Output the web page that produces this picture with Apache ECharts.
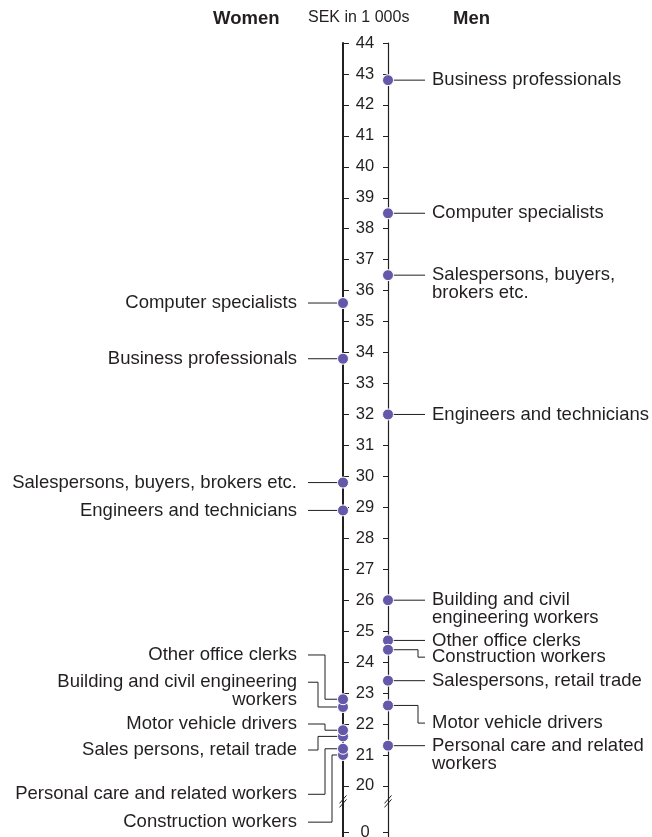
<!DOCTYPE html>
<html>
<head>
<meta charset="utf-8">
<script src="https://cdn.jsdelivr.net/npm/echarts@6/dist/echarts.min.js"></script>
<style>
    html, body { margin: 0; padding: 0; background: #fff; }
    #chart { width: 652px; height: 837px; }
</style>
</head>
<body>
<div id="chart"></div>
<script>
    // monthly pay, SEK in 1 000s
    var womenJobs = ['Computer specialists', 'Business professionals', 'Salespersons, buyers, brokers etc.',
        'Engineers and technicians', 'Other office clerks', 'Building and civil engineering\nworkers',
        'Motor vehicle drivers', 'Sales persons, retail trade', 'Personal care and related workers',
        'Construction workers'];
    var womenPay = [35.6, 33.8, 29.8, 28.9, 22.8, 22.55, 21.8, 21.6, 21.2, 21.0];

    var menJobs = ['Business professionals', 'Computer specialists', 'Salespersons, buyers,\nbrokers etc.',
        'Engineers and technicians', 'Building and civil\nengineering workers', 'Other office clerks',
        'Construction workers', 'Salespersons, retail trade', 'Motor vehicle drivers',
        'Personal care and related\nworkers'];
    var menPay = [42.8, 38.5, 36.5, 32.0, 26.0, 24.7, 24.4, 23.4, 22.6, 21.3];

    var tickLabels = ['0', '20', '21', '22', '23', '24', '25', '26', '27', '28', '29', '30', '31', '32',
        '33', '34', '35', '36', '37', '38', '39', '40', '41', '42', '43', '44'];

    // layout: the axis is broken below 20, "0" sits at ZERO_AT
    var ZERO_AT = 18.5;
    var BREAK_AT = 19.5;
    // bent leaders: [label level in axis units, px from the line where it turns]
    var womenBends = [null, null, null, null, [24.23, 18], [23.35, 25], [22.0, 18], [21.16, 25], [19.73, 18], [18.83, 11]];
    var menBends = [null, null, null, null, null, null, [24.16, 30], null, [22.03, 30], null];

    var INK = '#231f20';
    var DOT = '#6459a8';
    var FONT = 'Liberation Sans, Arial, sans-serif';

    var tickPos = tickLabels.map(function (t) { return t === '0' ? ZERO_AT : Number(t); });

    function labelSeries(xv, dir, jobs, pay, bends) {
        return {
            type: 'custom',
            clip: false,
            silent: true,
            z: 1,
            data: pay.map(function (v, i) { return [xv, v, i]; }),
            renderItem: function (params, api) {
                var i = api.value(2);
                var dot = api.coord([xv, api.value(1)]);
                var b = bends[i];
                var ly = b ? api.coord([xv, b[0]])[1] : dot[1];
                var end = dot[0] + (dir < 0 ? -35 : 37);
                var pts = [[end, ly]];
                if (b) {
                    var turn = dot[0] + dir * b[1];
                    pts.push([turn, ly], [turn, dot[1]]);
                }
                pts.push([dot[0], dot[1]]);
                return {
                    type: 'group',
                    children: [{
                        type: 'polyline',
                        shape: { points: pts },
                        style: { stroke: INK, lineWidth: 1, fill: null }
                    }, {
                        type: 'text',
                        style: {
                            text: jobs[i],
                            x: dir < 0 ? end - 11 : end + 7,
                            y: ly - 9,
                            align: dir < 0 ? 'right' : 'left',
                            verticalAlign: 'top',
                            fontSize: 18.5,
                            lineHeight: 18,
                            fontFamily: FONT,
                            fill: INK
                        }
                    }]
                };
            }
        };
    }

    function dotData(xv, pay, ascending) {
        var d = pay.map(function (v) { return [xv, v]; });
        d.sort(function (a, b) { return ascending ? a[1] - b[1] : b[1] - a[1]; });
        return d;
    }

    var chart = echarts.init(document.getElementById('chart'));
    chart.setOption({
        animation: false,
        grid: { left: 343, right: 264, top: 43, bottom: 0, outerBoundsMode: 'none', containLabel: false },
        xAxis: { type: 'value', min: 0, max: 1, show: false },
        yAxis: [{
            type: 'value', min: 18.35, max: 44, position: 'left',
            axisLine: { show: true, lineStyle: { color: INK, width: 2 } },
            axisTick: { show: true, inside: true, length: 6, customValues: tickPos, lineStyle: { color: INK, width: 1 } },
            axisLabel: {
                show: true, inside: true, align: 'center', margin: 22, customValues: tickPos,
                fontSize: 16.5, fontFamily: FONT, color: INK, hideOverlap: false,
                formatter: function (v) { return tickLabels[tickPos.indexOf(v)]; }
            },
            splitLine: { show: false }
        }, {
            type: 'value', min: 18.35, max: 44, position: 'right',
            axisLine: { show: true, lineStyle: { color: INK, width: 1.2 } },
            axisTick: { show: true, inside: true, length: 5, customValues: tickPos, lineStyle: { color: INK, width: 1 } },
            axisLabel: { show: false },
            splitLine: { show: false }
        }],
        graphic: [
            { type: 'text', left: 213, top: 9, style: { text: 'Women', font: 'bold 18.5px ' + FONT, fill: INK } },
            { type: 'text', left: 308, top: 10, style: { text: 'SEK in 1 000s', font: '16px ' + FONT, fill: INK } },
            { type: 'text', left: 453, top: 9, style: { text: 'Men', font: 'bold 18.5px ' + FONT, fill: INK } }
        ],
        series: [
            labelSeries(0, -1, womenJobs, womenPay, womenBends),
            labelSeries(1, 1, menJobs, menPay, menBends),
            {
                // break marks on both lines
                type: 'custom', clip: false, silent: true, z: 2,
                data: [[0, BREAK_AT], [1, BREAK_AT]],
                renderItem: function (params, api) {
                    var c = api.coord([api.value(0), api.value(1)]);
                    return {
                        type: 'group',
                        children: [-2, 2].map(function (o) {
                            return {
                                type: 'line',
                                shape: { x1: c[0] - 3.5, y1: c[1] + o + 4, x2: c[0] + 3.5, y2: c[1] + o - 4 },
                                style: { stroke: INK, lineWidth: 1 }
                            };
                        })
                    };
                }
            },
            {
                type: 'scatter', clip: false, z: 3, symbolSize: 11,
                itemStyle: { color: DOT, borderColor: '#fff', borderWidth: 1, opacity: 1 },
                data: dotData(0, womenPay, true)
            },
            {
                type: 'scatter', clip: false, z: 3, symbolSize: 11,
                itemStyle: { color: DOT, borderColor: '#fff', borderWidth: 1, opacity: 1 },
                data: dotData(1, menPay, false)
            }
        ]
    });
</script>
</body>
</html>
